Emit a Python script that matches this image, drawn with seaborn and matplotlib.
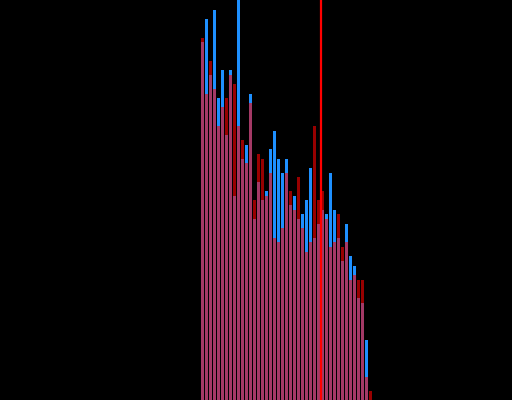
import numpy as np
import pandas as pd
import seaborn as sns
import matplotlib
matplotlib.use("Agg")
import matplotlib.pyplot as plt

# bin index and the two histogram counts
bins = list(range(43))
blue_counts = [358, 381, 325, 390, 302, 330, 265, 330, 204, 410,
               241, 255, 306, 181, 218, 200, 209, 251, 269, 241,
               227, 241, 195, 204, 181, 186, 200, 232, 162, 176,
               190, 186, 227, 190, 162, 139, 176, 144, 134, 102,
               97, 60, 0]
red_counts = [362, 306, 339, 311, 274, 293, 302, 325, 316, 274,
              260, 237, 297, 200, 246, 241, 204, 227, 162, 158,
              172, 227, 209, 190, 223, 172, 148, 158, 274, 200,
              209, 181, 153, 158, 186, 153, 158, 120, 125, 120,
              120, 23, 9]
marker_pos = 29.5

df = pd.DataFrame({"bin": bins, "blue": blue_counts, "red": red_counts})

fig = plt.figure(figsize=(5.12, 4.0), dpi=100, facecolor="black")
ax = fig.add_axes([0, 0, 1, 1])
ax.set_facecolor("black")

sns.barplot(data=df, x="bin", y="blue", color="#1e90ff", saturation=1,
            width=0.75, errorbar=None, linewidth=0, ax=ax)
sns.barplot(data=df, x="bin", y="red", color="#ff0000", saturation=1,
            width=0.75, errorbar=None, linewidth=0, alpha=0.6, ax=ax)

ax.axvline(marker_pos, color="#ff0000", lw=1.6, zorder=5)

ax.set_xlim(-50.625, 77.375)
ax.set_ylim(0, 400)
ax.axis("off")

fig.savefig("out.png", dpi=100, facecolor="black")
